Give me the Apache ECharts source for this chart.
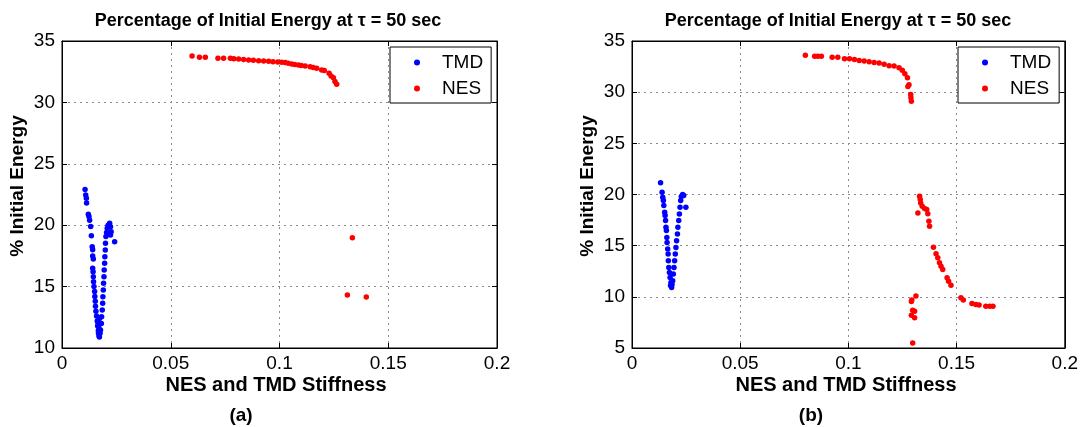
<!DOCTYPE html>
<html>
<head>
<meta charset="utf-8">
<script src="https://cdn.jsdelivr.net/npm/echarts@6/dist/echarts.min.js"></script>
<style>
html,body{margin:0;padding:0;background:#fff;}
#chart{width:1081px;height:427px;}
</style>
</head>
<body>
<div id="chart"></div>
<script>
// ---------- DATA ----------
const xTicks = [0, 0.05, 0.1, 0.15, 0.2];
const yTicksA = [10, 15, 20, 25, 30, 35];
const yTicksB = [5, 10, 15, 20, 25, 30, 35];
const seriesNames = ['TMD', 'NES'];
const panelLabels = ['(a)', '(b)'];
const titleText = 'Percentage of Initial Energy at \u03C4 = 50 sec';
const xAxisTitle = 'NES and TMD Stiffness';
const yAxisTitle = '% Initial Energy';

// Panel (a) TMD
const tmdA = [
  [0.0106,22.9],[0.0109,22.45],[0.0112,22.2],[0.0113,21.8],[0.0121,20.9],[0.0124,20.7],[0.0127,20.4],
  [0.0132,19.9],[0.0135,19.15],[0.0139,18.25],[0.0141,18.0],[0.0141,17.5],[0.0144,17.25],
  [0.0141,16.5],[0.0143,16.2],[0.0144,15.8],[0.0145,15.4],[0.0147,15.0],[0.0150,14.6],[0.0151,14.2],
  [0.0153,13.8],[0.0154,13.4],[0.0156,13.0],[0.0159,12.6],[0.0162,12.2],[0.0164,11.8],[0.0167,11.4],
  [0.0170,11.0],[0.0172,10.9],[0.0168,11.2],[0.0175,11.2],[0.0170,11.6],[0.0166,12.0],[0.0172,12.4],
  [0.0177,11.47],[0.0181,12.0],[0.0182,12.55],[0.0185,13.1],[0.0187,13.64],[0.0188,14.18],[0.0190,14.72],
  [0.0191,15.27],[0.0193,15.81],[0.0194,16.35],[0.0196,16.9],[0.0197,17.43],[0.0199,17.98],[0.0200,18.52],
  [0.0202,19.07],[0.0205,19.4],[0.0208,19.75],[0.0212,20.0],[0.0219,20.15],[0.0223,19.88],[0.0226,19.47],
  [0.0223,19.2],[0.0242,18.66]
];
// Panel (a) NES
const nesA = [
  [0.0598,33.78],[0.0632,33.67],[0.0659,33.67],[0.0717,33.59],[0.0743,33.59],[0.0774,33.59],[0.0790,33.56],
  [0.0812,33.53],[0.0835,33.49],[0.0858,33.45],[0.0880,33.43],[0.0904,33.4],[0.0927,33.37],[0.0950,33.35],
  [0.0970,33.32],[0.0992,33.29],[0.1010,33.27],[0.1026,33.24],[0.1040,33.18],[0.1056,33.13],[0.1070,33.09],
  [0.1087,33.05],[0.1100,33.0],[0.1118,32.96],[0.1141,32.9],[0.1155,32.84],[0.1171,32.78],[0.1194,32.64],
  [0.1206,32.6],[0.1228,32.37],[0.1237,32.15],[0.1248,32.0],[0.1255,31.7],[0.1263,31.47],
  [0.1335,18.98],[0.1312,14.32],[0.1399,14.15]
];
// Panel (b) TMD
const tmdB = [
  [0.0132,21.15],[0.0139,20.23],[0.0142,19.74],[0.0145,19.41],[0.0147,18.92],[0.0151,18.27],[0.0153,17.94],
  [0.0155,17.45],[0.0157,16.8],[0.0159,16.47],[0.0161,15.81],[0.0162,15.32],[0.0165,14.67],[0.0167,14.18],
  [0.0168,13.53],[0.0170,12.87],[0.0173,12.38],[0.0176,11.89],[0.0180,11.4],[0.0183,10.91],[0.0178,11.1],
  [0.0185,11.2],
  [0.0188,11.57],[0.0191,12.22],[0.0194,12.87],[0.0197,13.53],[0.0200,14.18],[0.0203,14.83],[0.0206,15.49],
  [0.0210,16.14],[0.0212,16.8],[0.0216,17.45],[0.0219,18.1],[0.0222,18.76],[0.0225,19.41],[0.0228,19.8],
  [0.0234,20.0],[0.0239,19.9],[0.0249,18.76]
];
// Panel (b) NES
const nesB = [
  [0.0801,33.6],[0.0844,33.5],[0.0859,33.5],[0.0875,33.5],[0.0925,33.4],[0.0951,33.4],[0.0982,33.27],
  [0.1005,33.27],[0.1028,33.2],[0.1050,33.1],[0.1073,33.04],[0.1096,32.98],[0.1119,32.91],[0.1142,32.84],
  [0.1165,32.72],[0.1188,32.59],[0.1211,32.55],[0.1234,32.39],[0.1249,32.13],[0.1261,31.8],[0.1273,31.41],
  [0.1280,30.73],[0.1275,30.56],[0.1288,29.77],[0.1289,29.45],[0.1291,29.12],
  [0.1329,19.83],[0.1332,19.51],[0.1334,19.18],[0.1341,18.86],[0.1352,18.63],[0.1362,18.54],[0.1367,18.11],
  [0.1321,18.2],[0.1372,17.39],[0.1375,16.9],[0.1393,14.85],[0.1405,14.2],[0.1413,13.81],[0.1421,13.32],
  [0.1428,13.0],[0.1436,12.68],[0.1456,11.86],[0.1463,11.53],[0.1474,11.14],[0.1520,9.9],[0.1531,9.68],
  [0.1571,9.36],[0.1589,9.26],[0.1604,9.19],[0.1635,9.09],[0.1653,9.09],[0.1668,9.09],
  [0.1312,10.07],[0.1293,9.7],[0.1291,9.55],[0.1297,8.7],[0.1306,8.6],[0.1291,8.2],[0.1306,7.95],[0.1297,5.5]
];

// ---------- CHART ----------
const FONT = 'Liberation Sans, Arial, sans-serif';
const chart = echarts.init(document.getElementById('chart'), null, {renderer: 'canvas'});

function xAx(gi, pos, show) {
  return {
    type: 'value', gridIndex: gi, position: pos, min: xTicks[0], max: xTicks[xTicks.length - 1],
    interval: xTicks[1] - xTicks[0],
    axisLine: {show: true, onZero: false, lineStyle: {color: '#000', width: 1}},
    axisTick: {show: true, inside: true, length: 5, lineStyle: {color: '#000'}},
    axisLabel: {show: show, color: '#000', fontFamily: FONT, fontSize: 19, margin: 6,
      formatter: v => String(+v.toFixed(2))},
    splitLine: {show: show, lineStyle: {color: '#8a8a8a', type: [2, 4], width: 1}}
  };
}
function yAx(gi, pos, show, ticks) {
  return {
    type: 'value', gridIndex: gi, position: pos, min: ticks[0], max: ticks[ticks.length - 1],
    interval: ticks[1] - ticks[0],
    axisLine: {show: true, onZero: false, lineStyle: {color: '#000', width: 1}},
    axisTick: {show: true, inside: true, length: 5, lineStyle: {color: '#000'}},
    axisLabel: {show: show, color: '#000', fontFamily: FONT, fontSize: 19, margin: 7},
    splitLine: {show: show, lineStyle: {color: '#8a8a8a', type: [2, 4], width: 1}}
  };
}
function sc(name, data, xi, yi, color) {
  return {
    name: name, type: 'scatter', xAxisIndex: xi, yAxisIndex: yi, data: data,
    symbol: 'circle', symbolSize: 5.5, itemStyle: {color: color, opacity: 1}, silent: true
  };
}
function legendAt(left) {
  return {
    orient: 'vertical', left: left, top: 47, data: seriesNames,
    backgroundColor: '#fff', borderColor: '#000', borderWidth: 1, borderRadius: 0,
    padding: [6, 8, 5, 24], itemWidth: 8, itemHeight: 6, itemGap: 7,
    textStyle: {color: '#000', fontFamily: FONT, fontSize: 19, padding: [0, 0, 0, 16]}
  };
}
function txt(text, x, y, size, rot) {
  return {
    type: 'text', x: x, y: y, rotation: rot || 0, silent: true,
    style: {text: text, fill: '#000', font: 'bold ' + size + 'px ' + FONT,
      align: 'center', verticalAlign: 'middle'}
  };
}

chart.setOption({
  animation: false,
  backgroundColor: '#fff',
  legend: [legendAt(390), legendAt(958)],
  grid: [
    {left: 62, top: 41, width: 435, height: 307, show: true, borderColor: '#000', borderWidth: 1},
    {left: 632, top: 41, width: 434, height: 307, show: true, borderColor: '#000', borderWidth: 1}
  ],
  xAxis: [xAx(0, 'bottom', true), xAx(0, 'top', false), xAx(1, 'bottom', true), xAx(1, 'top', false)],
  yAxis: [yAx(0, 'left', true, yTicksA), yAx(0, 'right', false, yTicksA),
          yAx(1, 'left', true, yTicksB), yAx(1, 'right', false, yTicksB)],
  graphic: [
    txt(titleText, 268, 21, 18),
    txt(titleText, 838, 21, 18),
    txt(xAxisTitle, 276, 385, 20),
    txt(xAxisTitle, 846, 385, 20),
    txt(panelLabels[0], 241, 416, 19),
    txt(panelLabels[1], 811, 416, 19),
    txt(yAxisTitle, 18, 186, 19, Math.PI / 2),
    txt(yAxisTitle, 588, 186, 19, Math.PI / 2)
  ],
  series: [
    sc(seriesNames[0], tmdA, 0, 0, '#0000ff'),
    sc(seriesNames[1], nesA, 0, 0, '#ff0000'),
    sc(seriesNames[0], tmdB, 2, 2, '#0000ff'),
    sc(seriesNames[1], nesB, 2, 2, '#ff0000')
  ]
});
</script>
</body>
</html>
